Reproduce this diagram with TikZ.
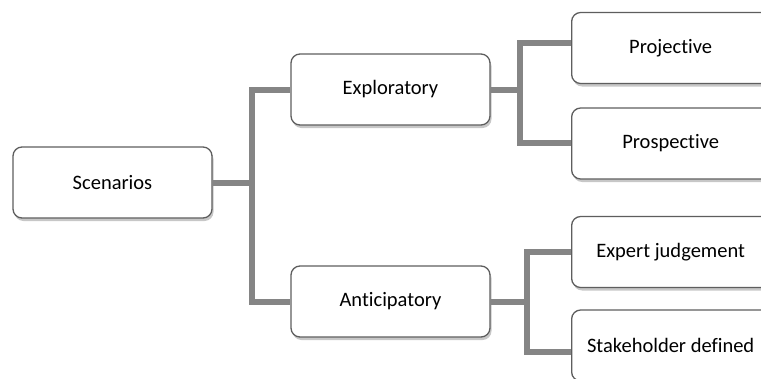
\documentclass[tikz,border=0pt]{standalone}
\usepackage{fontspec}
\setmainfont{Carlito}[Ligatures=NoCommon]
\usetikzlibrary{shadows}
\definecolor{linkgray}{HTML}{858585}
\definecolor{boxedge}{HTML}{5E5E5E}
\tikzset{
  catbox/.style={rectangle, rounded corners=9pt, draw=boxedge, line width=1.3pt,
    fill=white, minimum width=199pt, minimum height=71pt, inner sep=0pt,
    font=\fontsize{20.5}{24}\selectfont,
    drop shadow={shadow xshift=1.5pt, shadow yshift=-3pt, fill=black, opacity=0.22}},
  % leaf boxes run past the right edge of the page
  leafbox/.style={catbox, anchor=west, minimum width=240pt},
  link/.style={draw=linkgray, line width=6pt, line join=miter}
}
\newcommand{\leaftext}[1]{\makebox[198pt][c]{#1}\hspace*{42pt}}
\begin{document}
\begin{tikzpicture}[x=1pt, y=-1pt]
  \clip (0,0) rectangle (761,378);
  \fill[white] (0,0) rectangle (761,378);

  % tree levels
  \node[catbox] (scen) at (112.5,182.5) {Scenarios};
  \node[catbox] (expl) at (390.5,89.5) {Exploratory};
  \node[catbox] (anti) at (390.5,301.5) {Anticipatory};
  \node[leafbox] (proj) at (571,48) {\leaftext{Projective}};
  \node[leafbox] (pros) at (571,143.5) {\leaftext{Prospective}};
  \node[leafbox] (expert) at (571,252) {\leaftext{Expert judgement}};
  \node[leafbox] (stake) at (571,345.5) {\leaftext{Stakeholder defined}};

  % branch points
  \coordinate (j1) at (252,182.5);
  \coordinate (j2) at (520,89.5);
  \coordinate (j3) at (527,301.5);

  % connectors
  \draw[link] (scen.east) -- (j1);
  \draw[link] (expl.west) -| (j1) |- (anti.west);
  \draw[link] (expl.east) -- (j2);
  \draw[link] ([yshift=5pt]proj.west) -| (j2) |- ([yshift=0.5pt]pros.west);
  \draw[link] (anti.east) -- (j3);
  \draw[link] (expert.west) -| (j3) |- ([yshift=-6.5pt]stake.west);
\end{tikzpicture}
\end{document}
